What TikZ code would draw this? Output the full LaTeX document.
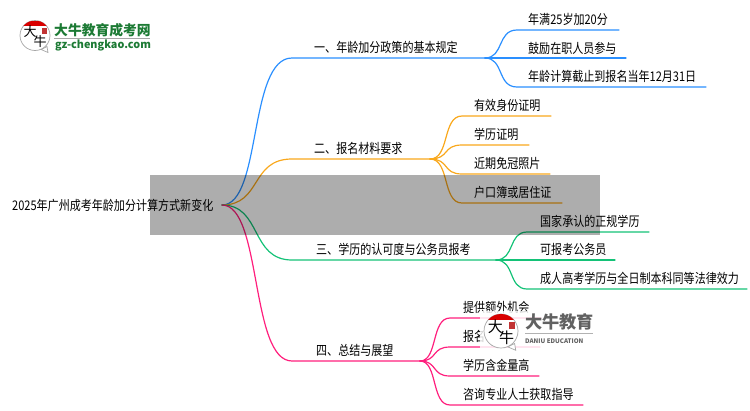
\documentclass[tikz,border=0pt]{standalone}
\usepackage{fontspec}
\setmainfont[FakeStretch=0.83]{Noto Sans CJK SC}
\newfontfamily\logofont{Noto Sans CJK SC}
\usetikzlibrary{positioning}

\definecolor{blueline}{HTML}{2A8FFF}
\definecolor{orangeline}{HTML}{F9A81C}
\definecolor{greenline}{HTML}{14C277}
\definecolor{pinkline}{HTML}{FF1F7D}
\definecolor{logogreen}{HTML}{1C7A34}

\tikzset{
    lbl/.style={anchor=base west, inner sep=0pt, text=black, font=\fontsize{13.3}{15}\selectfont},
    wire/.style={line width=1.2pt, line cap=round}
}

% speech bubble with the two characters: cx, cy, radius, font size, prefix
\newcommand{\bubblelogo}[5]{
    \begin{scope}[shift={(#1,#2)}, x=#3pt/15, y=-#3pt/15]
        \draw[black!35, fill=white, line width=.7pt] (12,11) -- (13,17) -- (6,14) -- cycle;
        \draw[black!35, fill=white, line width=.7pt] (0,0) circle [radius=#3pt];
        \begin{scope}
            \clip (0,0) circle [radius=#3pt];
            \fill[red!85!black] (-15,-15) rectangle (15,-10);
        \end{scope}
        \fill[red!70!black, opacity=.8] (7,-8) rectangle (12,-2);
        \node[inner sep=0pt, font=\logofont\fontsize{#4}{#4}\selectfont] (#5a) at (-5,-4) {大};
        \node[inner sep=0pt, font=\logofont\fontsize{#4}{#4}\selectfont] (#5b) at (5,6) {牛};
    \end{scope}
}

\begin{document}
\begin{tikzpicture}[x=1pt, y=-1pt]
    \useasboundingbox (0,0) rectangle (750,410);

    % root
    \node[lbl] (root) at (12,210) {2025年广州成考年龄加分计算方式新变化};
    \coordinate (rt) at (222,205);

    % first branch
    \node[lbl] (b1) at (314,52) {一、年龄加分政策的基本规定};
    \coordinate (b1s) at (292,58);
    \coordinate (b1h) at (485,58);
    \node[lbl] (a1) at (528,24) {年满25岁加20分};
    \node[lbl] (a2) at (528,53) {鼓励在职人员参与};
    \node[lbl] (a3) at (528,81) {年龄计算截止到报名当年12月31日};
    \coordinate (a1s) at (517,30);
    \coordinate (a3s) at (517,87);
    \coordinate (a1e) at (619,30);
    \coordinate (a2e) at (626,58);
    \coordinate (a3e) at (706,87);
    \draw[wire, blueline] (rt) .. controls (262,205) and (248,58) .. (b1s) -- (b1h);
    \draw[wire, blueline] (b1h) .. controls (504,58) and (497,30) .. (a1s) -- (a1e);
    \draw[wire, blueline] (b1h) -- (a2e);
    \draw[wire, blueline] (b1h) .. controls (504,58) and (497,87) .. (a3s) -- (a3e);

    % second branch
    \node[lbl] (b2) at (314,153) {二、报名材料要求};
    \coordinate (b2s) at (292,159);
    \coordinate (b2h) at (430,159);
    \node[lbl] (c1) at (474,110) {有效身份证明};
    \node[lbl] (c2) at (474,139) {学历证明};
    \node[lbl] (c3) at (474,168) {近期免冠照片};
    \node[lbl] (c4) at (474,197) {户口簿或居住证};
    \coordinate (c1s) at (462,116);
    \coordinate (c2s) at (462,145);
    \coordinate (c3s) at (462,174);
    \coordinate (c4s) at (462,203);
    \coordinate (c1e) at (551,116);
    \coordinate (c2e) at (529,145);
    \coordinate (c3e) at (550,174);
    \coordinate (c4e) at (562,203);
    \draw[wire, orangeline] (rt) .. controls (262,205) and (250,159) .. (b2s) -- (b2h);
    \foreach \s/\e in {c1s/c1e, c2s/c2e, c3s/c3e, c4s/c4e}
        \draw[wire, orangeline] (b2h) .. controls +(20,0) and ([xshift=-20pt]\s) .. (\s) -- (\e);

    % third branch
    \node[lbl] (b3) at (316,254) {三、学历的认可度与公务员报考};
    \coordinate (b3s) at (292,260);
    \coordinate (b3h) at (496,260);
    \node[lbl] (d1) at (540,226) {国家承认的正规学历};
    \node[lbl] (d2) at (540,254) {可报考公务员};
    \node[lbl] (d3) at (540,283) {成人高考学历与全日制本科同等法律效力};
    \coordinate (d1s) at (527,232);
    \coordinate (d3s) at (527,289);
    \coordinate (d1e) at (649,232);
    \coordinate (d2e) at (615,260);
    \coordinate (d3e) at (747,289);
    \draw[wire, greenline] (rt) .. controls (262,205) and (250,260) .. (b3s) -- (b3h);
    \draw[wire, greenline] (b3h) .. controls (515,260) and (508,232) .. (d1s) -- (d1e);
    \draw[wire, greenline] (b3h) -- (d2e);
    \draw[wire, greenline] (b3h) .. controls (515,260) and (508,289) .. (d3s) -- (d3e);

    % fourth branch
    \node[lbl] (b4) at (316,355) {四、总结与展望};
    \coordinate (b4s) at (292,361);
    \coordinate (b4h) at (420,361);
    \node[lbl] (f1) at (463,312) {提供额外机会};
    \node[lbl] (f2) at (463,341) {报名};
    \node[lbl] (f3) at (463,370) {学历含金量高};
    \node[lbl] (f4) at (463,399) {咨询专业人士获取指导};
    \coordinate (f1s) at (450,318);
    \coordinate (f2s) at (450,347);
    \coordinate (f3s) at (450,376);
    \coordinate (f4s) at (450,405);
    \coordinate (f1e) at (541,318);
    \coordinate (f2e) at (540,347);
    \coordinate (f3e) at (539,376);
    \coordinate (f4e) at (583,405);
    \draw[wire, pinkline] (rt) .. controls (262,205) and (250,361) .. (b4s) -- (b4h);
    \foreach \s/\e in {f1s/f1e, f2s/f2e, f3s/f3e, f4s/f4e}
        \draw[wire, pinkline] (b4h) .. controls +(18,0) and ([xshift=-19pt]\s) .. (\s) -- (\e);

    % grey band
    \fill[black, opacity=.32] (150,175) rectangle (600,235);

    % logo top left
    \bubblelogo{35}{35.5}{15}{13}{p}
    \node[anchor=west, inner sep=0pt, text=logogreen, font=\logofont\fontsize{13.8}{15}\selectfont\bfseries] (logoa) at (54,30) {大牛教育成考网};
    \draw[black!35, line width=1pt] (54,38.5) -- (150,38.5);
    \node[anchor=west, inner sep=0pt, text=logogreen, font=\logofont\fontsize{10.8}{13}\selectfont\bfseries] (logob) at (55,45) {gz-chengkao.com};

    % watermark
    \fill[white, opacity=.82] (480,311) rectangle (545,352);
    \bubblelogo{501}{331}{17}{15}{q}
    \node[anchor=west, inner sep=0pt, text=black!62, font=\logofont\fontsize{17.2}{18}\selectfont\bfseries] (marka) at (525,322) {大牛教育};
    \draw[black!30, line width=.6pt] (525,333) -- (593,333);
    \node[anchor=west, inner sep=0pt, text=black!62, font=\logofont\fontsize{6.2}{7}\selectfont\bfseries] (markb) at (525,341) {DANIU EDUCATION};
\end{tikzpicture}
\end{document}
